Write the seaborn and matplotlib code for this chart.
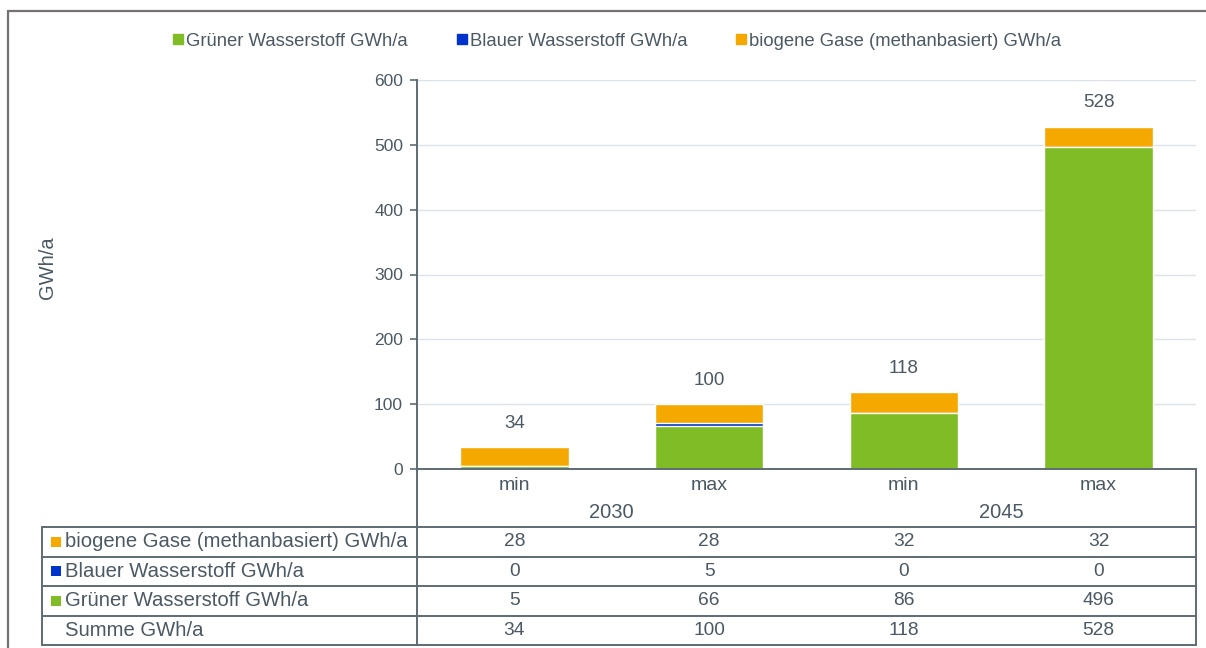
import numpy as np
import pandas as pd
import matplotlib
matplotlib.use("Agg")
import matplotlib.pyplot as plt
from matplotlib.lines import Line2D
import seaborn as sns

# Data
years = ["2030", "2030", "2045", "2045"]
cases = ["min", "max", "min", "max"]
gruen = [5, 66, 86, 496]
blau = [0, 5, 0, 0]
biogen = [28, 28, 32, 32]
summe = [34, 100, 118, 528]

lab_gruen = "Grüner Wasserstoff GWh/a"
lab_blau = "Blauer Wasserstoff GWh/a"
lab_bio = "biogene Gase (methanbasiert) GWh/a"
lab_sum = "Summe GWh/a"

c_gruen = "#80BC26"
c_blau = "#0033CC"
c_bio = "#F5A800"
txt = "#4B5963"
axc = "#5F6B73"
grid = "#DCE3E8"

sns.set_style("white")
plt.rcParams['font.family'] = ['Liberation Sans', 'DejaVu Sans']

df = pd.DataFrame({"key": [y + " " + c for y, c in zip(years, cases)],
                   "gruen": gruen, "blau": blau, "biogen": biogen, "summe": summe})
df["gb"] = df["gruen"] + df["blau"]

W, H = 1206, 648
fig = plt.figure(figsize=(W / 100, H / 100), dpi=100)

L, R, T, B = 417, 1196, 80, 469
ax = fig.add_axes([L / W, 1 - B / H, (R - L) / W, (B - T) / H])

# stacked bars drawn as cumulative overlays
bw = 0.556
sns.barplot(data=df, x="key", y="summe", color=c_bio, width=bw, ax=ax, saturation=1)
sns.barplot(data=df, x="key", y="gb", color=c_blau, width=bw, ax=ax, saturation=1)
sns.barplot(data=df, x="key", y="gruen", color=c_gruen, width=bw, ax=ax, saturation=1)

ax.set_ylim(0, 600)
ax.set_xlim(-0.5, 3.5)
ax.set_yticks(range(0, 601, 100))
ax.yaxis.grid(True, color=grid, lw=1)
ax.set_axisbelow(True)
ax.set_xlabel("")
ax.set_ylabel("")
ax.set_xticks(range(4))
ax.set_xticklabels(cases)
for s in ["top", "right"]:
    ax.spines[s].set_visible(False)
ax.spines["left"].set_color(axc)
ax.spines["bottom"].set_color(axc)
ax.spines["left"].set_linewidth(1.4)
ax.spines["bottom"].set_linewidth(1.4)
ax.tick_params(axis="y", length=5, width=1.2, color=axc, labelsize=12.5, labelcolor=txt, pad=5, left=True)
ax.tick_params(axis="x", length=0, labelsize=14, labelcolor=txt, pad=6)

for i, v in enumerate(summe):
    ax.annotate(str(v), (i, v), xytext=(0, 11), textcoords="offset points",
                ha="center", va="bottom", fontsize=13.5, color=txt)

# year labels
for j, yr in enumerate(["2030", "2045"]):
    ax.text(2 * j + 0.5, 1 - (512 - T) / (B - T), yr, transform=ax.get_xaxis_transform(),
            ha="center", va="center", fontsize=14.5, color=txt)

fig.text(47 / W, 1 - 268 / H, "GWh/a", rotation=90, ha="center", va="center",
         fontsize=14.5, color=txt)

# overlay in pixel coordinates for table and frame
ov = fig.add_axes([0, 0, 1, 1], zorder=5)
ov.set_xlim(0, W)
ov.set_ylim(H, 0)
ov.axis("off")
ov.patch.set_alpha(0)

lw = 1.4
# category area borders
ov.plot([L, L], [B, 527], color=axc, lw=lw)
ov.plot([R, R], [B, 527], color=axc, lw=lw)

rows_top = 527
rh = 29.5
x0 = 42
rows = [(lab_bio, biogen, c_bio), (lab_blau, blau, c_blau),
        (lab_gruen, gruen, c_gruen), (lab_sum, summe, None)]
for k in range(5):
    yy = rows_top + k * rh
    ov.plot([x0, R], [yy, yy], color=axc, lw=lw)
ov.plot([x0, x0], [rows_top, rows_top + 4 * rh], color=axc, lw=lw)
ov.plot([L, L], [rows_top, rows_top + 4 * rh], color=axc, lw=lw)
ov.plot([R, R], [rows_top, rows_top + 4 * rh], color=axc, lw=lw)
cw = (R - L) / 4
for k, (lab, vals, col) in enumerate(rows):
    yc = rows_top + (k + 0.5) * rh
    if col is not None:
        ov.add_patch(plt.Rectangle((51, yc - 5), 10, 10, color=col, lw=0))
    ov.text(65, yc, lab, ha="left", va="center", fontsize=14.6, color=txt)
    for i, v in enumerate(vals):
        ov.text(L + cw * (i + 0.5), yc, str(v), ha="center", va="center", fontsize=13.8, color=txt)

# outer frame
fc = "#767171"
ov.plot([7.5, 7.5], [10.5, H], color=fc, lw=1.6)
ov.plot([7.5, W], [10.5, 10.5], color=fc, lw=1.6)

# legend
handles = [Line2D([], [], marker="s", ls="", color=c, markersize=7)
           for c in [c_gruen, c_blau, c_bio]]
fig.legend(handles, [lab_gruen, lab_blau, lab_bio], loc="center",
           bbox_to_anchor=(617 / W, 1 - 41 / H), ncol=3, frameon=False,
           fontsize=13.3, handlelength=0.6, handletextpad=0.15, columnspacing=2.6,
           labelcolor=txt)

fig.savefig("out.png", dpi=100)
